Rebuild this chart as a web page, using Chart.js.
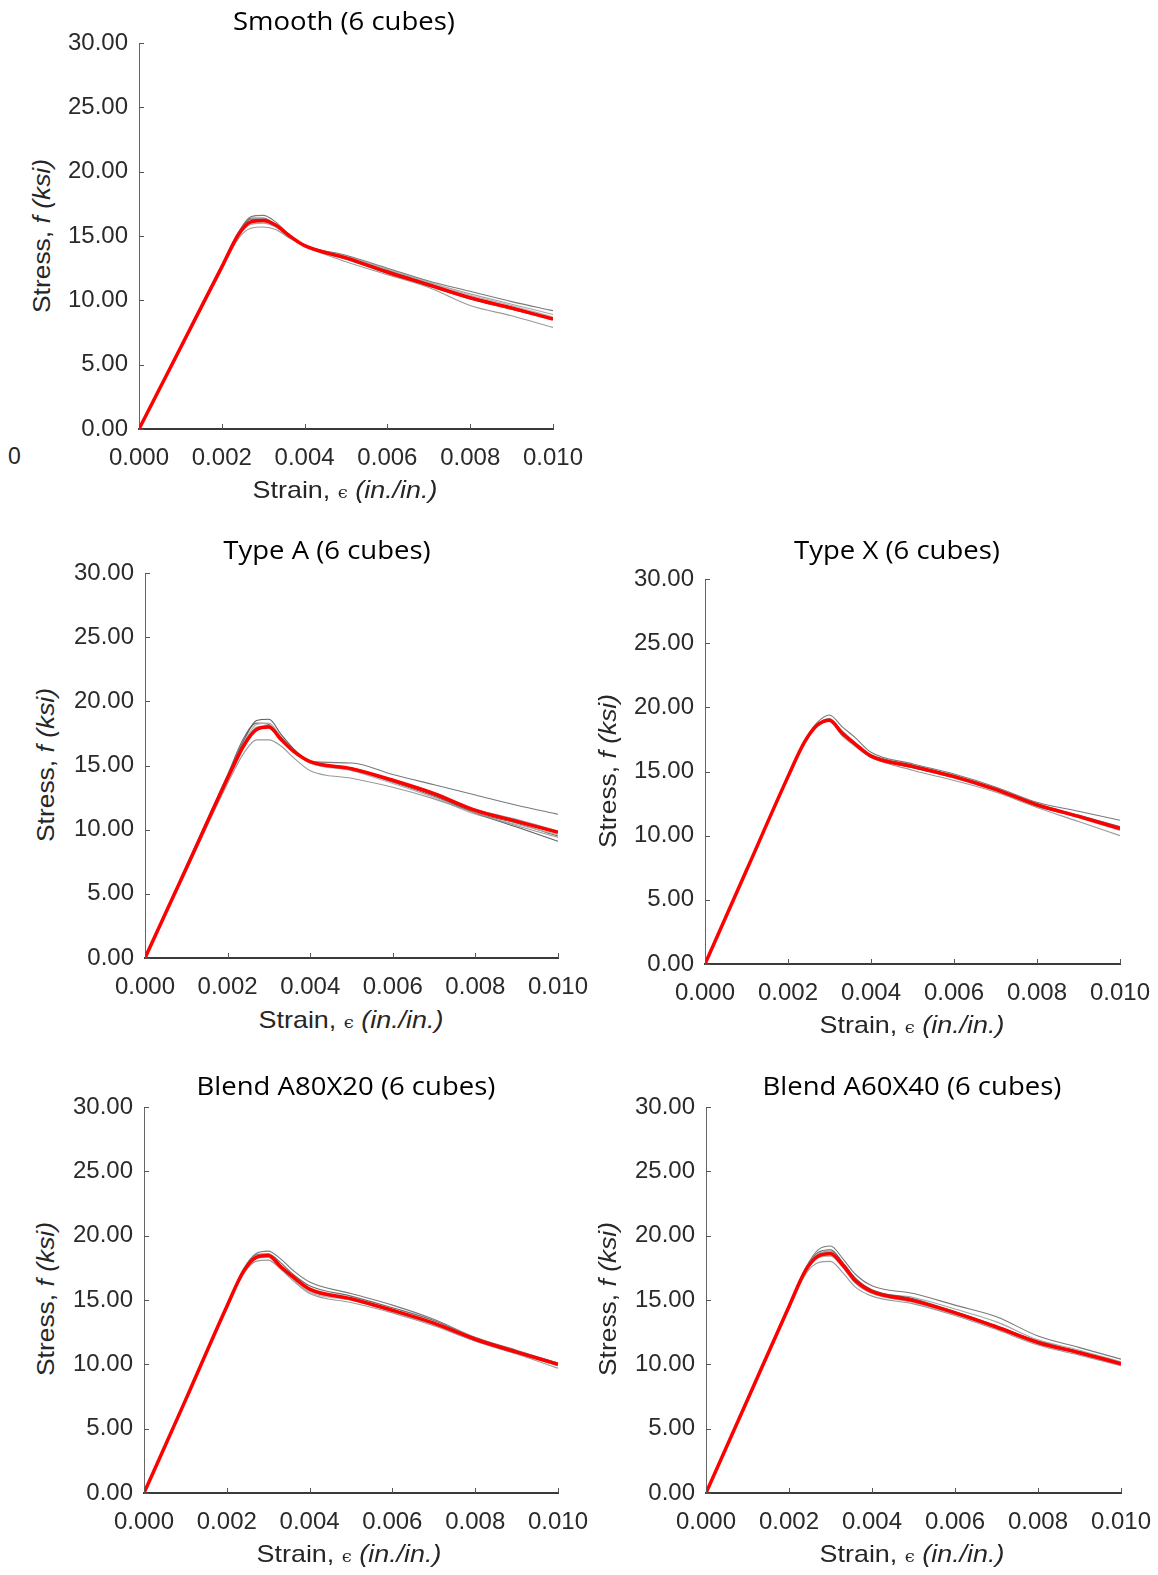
<!DOCTYPE html>
<html>
<head>
<meta charset="utf-8">
<script src="https://cdn.jsdelivr.net/npm/chart.js@4.4.1/dist/chart.umd.min.js"></script>
<style>
  body { margin: 0; background: #fff; width: 1158px; height: 1575px; position: relative; overflow: hidden;
         font-family: "Liberation Sans", Arial, sans-serif; }
  canvas { position: absolute; }
  .title { position: absolute; font-family: "Open Sans", sans-serif; font-size: 25px; color: #000;
           transform: translate(-50%, -50%) scaleX(1.1); white-space: nowrap; }
  .ylab { position: absolute; font-size: 24px; color: #262626; white-space: nowrap;
          transform: translate(-50%, -50%) rotate(-90deg) scaleX(1.1); }
  .xlab { position: absolute; font-size: 24px; color: #262626; white-space: nowrap;
          transform: translate(-50%, -50%) scaleX(1.12); }
  .eps { font-family: "DejaVu Serif", serif; font-size: 16px; }
  .stray { position: absolute; font-size: 23px; color: #262626; }
</style>
</head>
<body>
<script>
// ─── Data ─────────────────────────────────────────────────────
const strain = [0, 0.001, 0.002, 0.0024, 0.0027, 0.003, 0.0033, 0.0036, 0.004,
                0.005, 0.006, 0.007, 0.008, 0.009, 0.010];
const yTicks = [0, 5, 10, 15, 20, 25, 30];
const xTicks = [0, 0.002, 0.004, 0.006, 0.008, 0.010];

// Smooth
const smoothAvg = [0, 6.3, 12.6, 15.1, 16.1, 16.2, 15.85, 15.1, 14.25, 13.3, 12.2, 11.2, 10.2, 9.4, 8.55];
const smoothCubes = [
  [0, 6.4, 12.7, 15.3, 16.5, 16.6, 16.1, 15.2, 14.3, 13.5, 12.5, 11.5, 10.7, 9.9, 9.2],
  [0, 6.2, 12.4, 14.8, 15.6, 15.7, 15.5, 14.9, 14.2, 13.0, 12.0, 11.0, 9.6, 8.8, 7.9],
  [0, 6.3, 12.6, 15.2, 16.3, 16.3, 15.9, 15.1, 14.3, 13.3, 12.3, 11.3, 10.2, 9.4, 8.6],
  [0, 6.2, 12.5, 15.0, 16.0, 16.1, 15.7, 15.0, 14.3, 13.4, 12.4, 11.4, 10.4, 9.6, 8.7],
  [0, 6.3, 12.6, 15.2, 16.4, 16.4, 15.9, 15.1, 14.2, 13.2, 12.1, 11.1, 10.1, 9.3, 8.5],
  [0, 6.3, 12.5, 15.0, 15.9, 16.0, 15.7, 15.0, 14.3, 13.4, 12.4, 11.4, 10.5, 9.7, 8.9]
];

// Type A
const typeAAvg = [0, 7.0, 14.0, 16.6, 17.8, 18.0, 17.0, 16.1, 15.3, 14.75, 13.85, 12.8, 11.5, 10.65, 9.8];
const typeACubes = [
  [0, 7.0, 14.0, 16.5, 17.9, 18.1, 17.2, 16.2, 15.3, 15.2, 14.3, 13.5, 12.7, 11.9, 11.2],
  [0, 6.8, 13.6, 16.0, 17.0, 17.0, 16.5, 15.6, 14.6, 14.0, 13.3, 12.4, 11.3, 10.3, 9.4],
  [0, 7.1, 14.2, 17.0, 18.5, 18.6, 17.4, 16.3, 15.3, 14.8, 13.8, 12.7, 11.3, 10.2, 9.1],
  [0, 7.0, 14.1, 16.8, 18.2, 18.3, 17.2, 16.1, 15.2, 14.6, 13.6, 12.5, 11.2, 10.4, 9.6],
  [0, 7.2, 14.3, 17.2, 18.3, 18.2, 17.1, 16.1, 15.2, 14.7, 13.7, 12.6, 11.3, 10.5, 9.5],
  [0, 7.0, 14.0, 16.7, 18.0, 18.1, 17.1, 16.0, 15.3, 14.8, 13.9, 12.9, 11.6, 10.8, 9.9]
];

// Type X
const typeXAvg = [0, 7.3, 14.6, 17.3, 18.6, 19.0, 18.0, 17.2, 16.2, 15.4, 14.6, 13.6, 12.4, 11.5, 10.55];
const typeXCubes = [
  [0, 7.3, 14.6, 17.4, 18.8, 19.4, 18.5, 17.7, 16.5, 15.6, 14.8, 13.8, 12.6, 11.9, 11.2],
  [0, 7.2, 14.5, 17.2, 18.5, 18.9, 17.8, 17.0, 16.1, 15.1, 14.3, 13.4, 12.2, 11.1, 10.0],
  [0, 7.3, 14.6, 17.3, 18.6, 19.1, 18.1, 17.2, 16.2, 15.3, 14.6, 13.6, 12.3, 11.5, 10.6],
  [0, 7.3, 14.7, 17.4, 18.7, 19.1, 18.0, 17.1, 16.1, 15.4, 14.5, 13.5, 12.3, 11.4, 10.4],
  [0, 7.2, 14.5, 17.2, 18.5, 19.0, 17.9, 17.1, 16.3, 15.5, 14.7, 13.7, 12.5, 11.6, 10.7],
  [0, 7.3, 14.6, 17.3, 18.6, 19.0, 18.2, 17.3, 16.2, 15.3, 14.5, 13.6, 12.4, 11.5, 10.5]
];

// Blend A80X20
const blend8020Avg = [0, 7.2, 14.5, 17.2, 18.3, 18.45, 17.6, 16.8, 15.85, 15.1, 14.2, 13.2, 11.95, 10.95, 10.0];
const blend8020Cubes = [
  [0, 7.3, 14.6, 17.4, 18.6, 18.8, 18.2, 17.3, 16.4, 15.5, 14.6, 13.5, 12.1, 11.1, 10.1],
  [0, 7.1, 14.3, 17.0, 18.0, 18.1, 17.4, 16.5, 15.5, 14.8, 14.0, 13.0, 11.8, 10.8, 9.7],
  [0, 7.2, 14.5, 17.2, 18.3, 18.5, 17.7, 16.8, 15.8, 15.1, 14.2, 13.2, 12.0, 11.0, 10.0],
  [0, 7.2, 14.4, 17.1, 18.2, 18.3, 17.5, 16.6, 15.6, 15.0, 14.1, 13.1, 11.9, 10.9, 9.9],
  [0, 7.3, 14.6, 17.3, 18.5, 18.6, 17.9, 17.0, 16.1, 15.3, 14.4, 13.4, 12.0, 11.0, 10.1],
  [0, 7.2, 14.5, 17.2, 18.4, 18.4, 17.6, 16.7, 15.7, 15.0, 14.1, 13.1, 11.9, 10.9, 9.9]
];

// Blend A60X40
const blend6040Avg = [0, 7.25, 14.5, 17.3, 18.4, 18.6, 17.7, 16.5, 15.65, 14.95, 14.0, 12.9, 11.7, 10.9, 10.05];
const blend6040Cubes = [
  [0, 7.3, 14.6, 17.5, 18.9, 19.2, 18.2, 17.0, 16.1, 15.5, 14.6, 13.7, 12.2, 11.3, 10.4],
  [0, 7.1, 14.3, 17.0, 17.9, 18.0, 17.1, 16.0, 15.3, 14.7, 13.8, 12.7, 11.5, 10.7, 9.9],
  [0, 7.3, 14.6, 17.4, 18.7, 18.9, 17.9, 16.7, 15.8, 15.1, 14.1, 13.0, 11.8, 11.0, 10.1],
  [0, 7.2, 14.4, 17.2, 18.3, 18.4, 17.5, 16.3, 15.5, 14.8, 13.9, 12.8, 11.6, 10.8, 9.95],
  [0, 7.3, 14.5, 17.3, 18.5, 18.7, 17.7, 16.6, 15.6, 14.9, 14.0, 12.9, 11.7, 10.9, 10.0],
  [0, 7.2, 14.4, 17.2, 18.6, 18.8, 17.8, 16.6, 15.7, 15.2, 14.3, 13.3, 11.9, 11.1, 10.2]
];

const grayColors = ['#7a7a7a', '#9a9a9a', '#5c5c5c', '#b0b0b0', '#6e6e6e', '#a4a4a4'];

// ─── Panel layout (plot area in page pixels) ──────────────────
const panels = [
  { title: 'Smooth (6 cubes)', avg: smoothAvg, cubes: smoothCubes,
    plot: [139, 43, 553, 429], titleAt: [344, 20], yLabAt: [42, 236], xLabAt: [345, 490] },
  { title: 'Type A (6 cubes)', avg: typeAAvg, cubes: typeACubes,
    plot: [145, 573, 558, 958], titleAt: [327, 549], yLabAt: [46, 765], xLabAt: [351, 1020] },
  { title: 'Type X (6 cubes)', avg: typeXAvg, cubes: typeXCubes,
    plot: [705, 579, 1120, 964], titleAt: [897, 549], yLabAt: [608, 771], xLabAt: [912, 1025] },
  { title: 'Blend A80X20 (6 cubes)', avg: blend8020Avg, cubes: blend8020Cubes,
    plot: [144, 1107, 558, 1493], titleAt: [346, 1085], yLabAt: [46, 1299], xLabAt: [349, 1554] },
  { title: 'Blend A60X40 (6 cubes)', avg: blend6040Avg, cubes: blend6040Cubes,
    plot: [706, 1107, 1121, 1493], titleAt: [912, 1085], yLabAt: [608, 1299], xLabAt: [912, 1554] }
];

// scale paddings (half label + tick padding) push the plot in, so keep the pads above those
const AXIS_W = 80, TOP_PAD = 30, RIGHT_PAD = 50, AXIS_H = 48;

// ─── Inward tick marks ────────────────────────────────────────
const inwardTicks = {
  id: 'inwardTicks',
  afterDraw(chart) {
    const { ctx, chartArea, scales } = chart;
    ctx.save();
    ctx.strokeStyle = '#555';
    ctx.lineWidth = 1;
    scales.x.ticks.forEach(t => {
      const px = Math.round(scales.x.getPixelForValue(t.value)) + 0.5;
      ctx.beginPath();
      ctx.moveTo(px, chartArea.bottom);
      ctx.lineTo(px, chartArea.bottom - 5);
      ctx.stroke();
    });
    scales.y.ticks.forEach(t => {
      const py = Math.round(scales.y.getPixelForValue(t.value)) + 0.5;
      ctx.beginPath();
      ctx.moveTo(chartArea.left, py);
      ctx.lineTo(chartArea.left + 5, py);
      ctx.stroke();
    });
    ctx.restore();
  }
};

function toPoints(values) {
  return values.map((v, i) => ({ x: strain[i], y: v }));
}

function addText(cls, html, at) {
  const el = document.createElement('div');
  el.className = cls;
  el.innerHTML = html;
  el.style.left = at[0] + 'px';
  el.style.top = at[1] + 'px';
  document.body.appendChild(el);
}

const tickFont = { family: '"Liberation Sans", Arial, sans-serif', size: 24 };

panels.forEach(p => {
  const [l, t, r, b] = p.plot;
  const canvas = document.createElement('canvas');
  const w = (r - l) + AXIS_W + RIGHT_PAD;
  const h = (b - t) + TOP_PAD + AXIS_H;
  canvas.width = w;
  canvas.height = h;
  canvas.style.left = (l - AXIS_W) + 'px';
  canvas.style.top = (t - TOP_PAD) + 'px';
  canvas.style.width = w + 'px';
  canvas.style.height = h + 'px';
  document.body.appendChild(canvas);

  // red average first so it is drawn on top of the cube curves
  const datasets = [{
    data: toPoints(p.avg),
    borderColor: '#ff0000',
    borderWidth: 3.5,
    pointRadius: 0,
    cubicInterpolationMode: 'monotone'
  }];
  p.cubes.forEach((c, i) => {
    datasets.push({
      data: toPoints(c),
      borderColor: grayColors[i],
      borderWidth: 1.1,
      pointRadius: 0,
      cubicInterpolationMode: 'monotone'
    });
  });

  new Chart(canvas, {
    type: 'line',
    data: { datasets },
    options: {
      responsive: false,
      animation: false,
      events: [],
      layout: { padding: { left: 0, top: TOP_PAD, right: RIGHT_PAD, bottom: 0 } },
      plugins: { legend: { display: false }, tooltip: { enabled: false } },
      scales: {
        x: {
          type: 'linear', min: 0, max: 0.010,
          afterBuildTicks: s => { s.ticks = xTicks.map(v => ({ value: v })); },
          afterFit: s => { s.height = AXIS_H; },
          ticks: { font: tickFont, color: '#2a2a2a', padding: 15, maxRotation: 0,
                   callback: v => v.toFixed(3) },
          grid: { display: false, drawTicks: false },
          border: { display: true, color: '#3a3a3a', width: 2 }
        },
        y: {
          type: 'linear', min: 0, max: 30,
          afterBuildTicks: s => { s.ticks = yTicks.map(v => ({ value: v })); },
          afterFit: s => { s.width = AXIS_W; },
          ticks: { font: tickFont, color: '#2a2a2a', padding: 11,
                   callback: v => v.toFixed(2) },
          grid: { display: false, drawTicks: false },
          border: { display: true, color: '#666', width: 1 }
        }
      }
    },
    plugins: [inwardTicks]
  });

  addText('title', p.title, p.titleAt);
  addText('ylab', 'Stress, <i>f (ksi)</i>', p.yLabAt);
  addText('xlab', 'Strain, <span class="eps">ϵ</span> <i>(in./in.)</i>', p.xLabAt);
});

// stray axis label fragment at the far left of the top panel
addText('stray', '0', [8, 443]);
</script>
</body>
</html>
